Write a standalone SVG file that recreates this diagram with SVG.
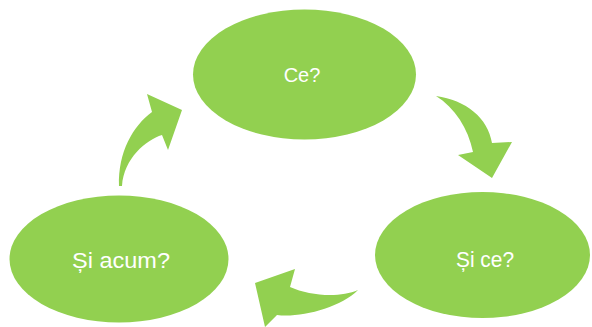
<svg xmlns="http://www.w3.org/2000/svg" width="592" height="327" viewBox="0 0 592 327">
<style>
.node{fill:#92D050;}
.lbl{fill:#FFFFFF;font-family:"Liberation Sans",Arial,sans-serif;text-anchor:middle;}
.arrow{fill:#92D050;}
</style>
<rect width="592" height="327" fill="#FFFFFF"/>
<g id="connectors">
<path class="arrow" d="M119,186 C118,152 133,126 152,112 L147,94 L182,110 L168,150 L162,135 C146,140 124,158 122,186 Z"/>
<path class="arrow" d="M436,96 C466,100 488,118 492,143 L512,142 L492,178 L458,155 L473,152 C468,128 455,108 436,96 Z"/>
<path class="arrow" d="M358,290 C340,298 310,296 290,287 L295,269 L255,283 L265,327 L277,315 C300,318 340,308 358,290 Z"/>
</g>
<g id="node-ce">
<ellipse class="node" cx="304.5" cy="74.5" rx="111.5" ry="65"/>
<text class="lbl" x="302" y="82" font-size="20">Ce?</text>
</g>
<g id="node-si-ce">
<ellipse class="node" cx="482.5" cy="255" rx="107.5" ry="63"/>
<text class="lbl" x="485" y="267" font-size="22" textLength="58" lengthAdjust="spacingAndGlyphs">Și ce?</text>
</g>
<g id="node-si-acum">
<ellipse class="node" cx="119" cy="259" rx="109.5" ry="63.5"/>
<text class="lbl" x="121" y="268" font-size="22" textLength="98" lengthAdjust="spacingAndGlyphs">Și acum?</text>
</g>
</svg>
